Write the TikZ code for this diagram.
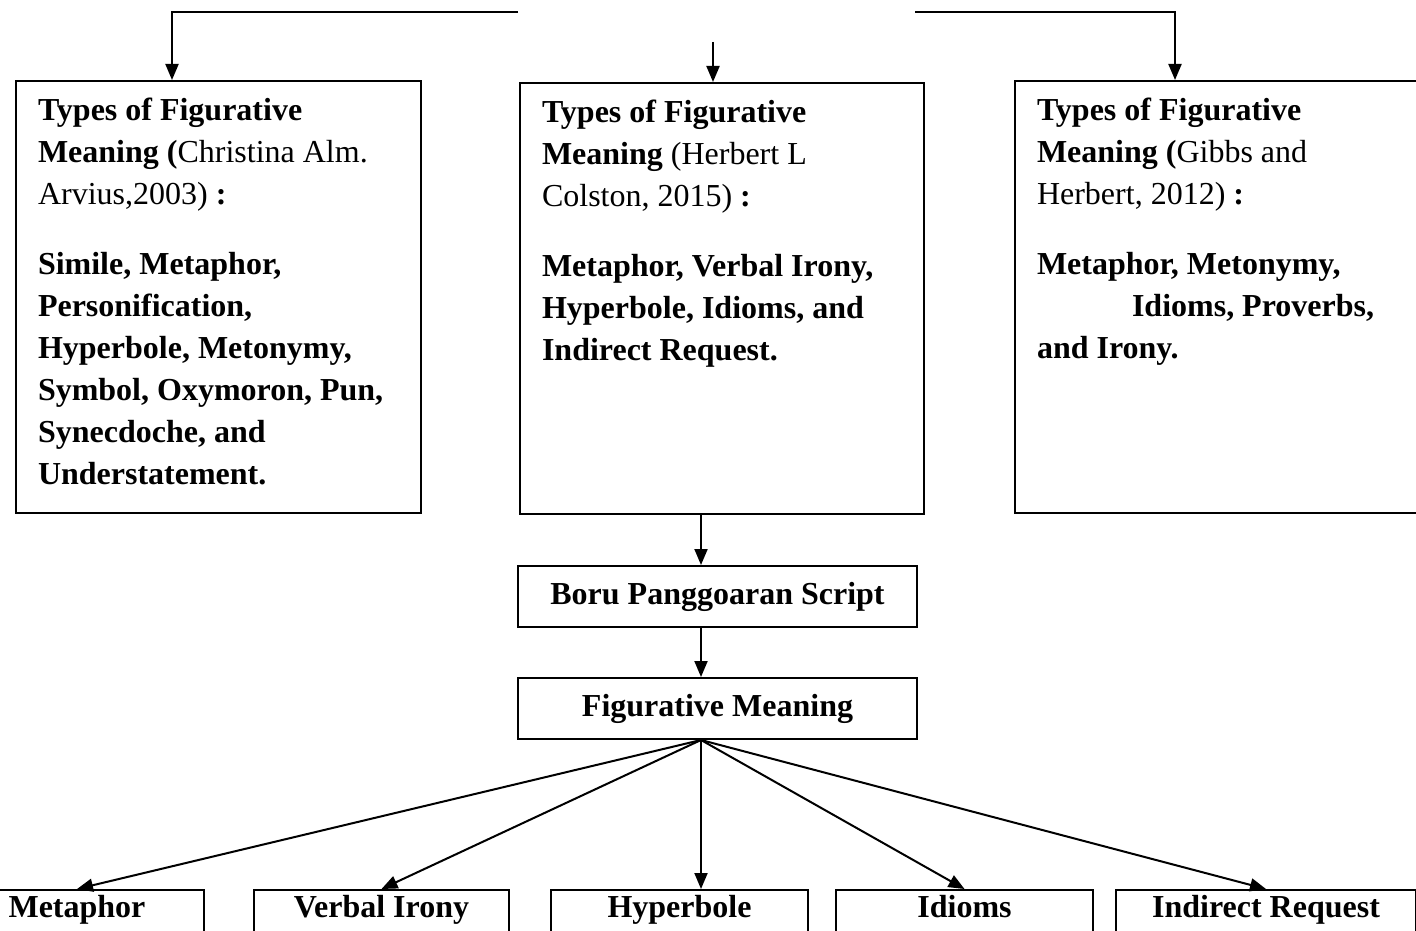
\documentclass[tikz,border=0pt]{standalone}
\usepackage{fontspec}
\setmainfont{Liberation Serif}
\usetikzlibrary{arrows.meta, positioning, calc}

\tikzset{
  topbox/.style={draw, line width=1pt, anchor=north west, inner xsep=11pt, inner ysep=5pt, align=left},
  midbox/.style={draw, line width=1pt, anchor=north west, minimum width=199.5pt, minimum height=30.5pt, inner sep=0pt, font=\fontsize{16}{21}\selectfont\bfseries},
  leafbox/.style={draw, line width=1pt, anchor=north, text height=11.5pt, text depth=30pt, inner ysep=2pt, font=\fontsize{16}{21}\selectfont\bfseries},
  link/.style={-{Triangle[length=8pt,width=6.5pt]}, line width=1pt},
}

\begin{document}
\begin{tikzpicture}[x=0.5pt, y=-0.5pt, font=\fontsize{16}{21}\selectfont]
  \useasboundingbox (0,0) rectangle (1416,930);

  % three source boxes
  \node[topbox] (left) at (15,80) {\parbox[t][206pt][t]{180.5pt}{\strut
    \textbf{Types of Figurative}\\
    \textbf{Meaning (}Christina Alm.\\
    Arvius,2003) \textbf{:}\\[14pt]
    \textbf{Simile, Metaphor,}\\
    \textbf{Personification,}\\
    \textbf{Hyperbole, Metonymy,}\\
    \textbf{Symbol, Oxymoron, Pun,}\\
    \textbf{Synecdoche, and}\\
    \textbf{Understatement.}}};
  \node[topbox] (mid) at (519,82) {\parbox[t][205.5pt][t]{180pt}{\strut
    \textbf{Types of Figurative}\\
    \textbf{Meaning} (Herbert L\\
    Colston, 2015) \textbf{:}\\[14pt]
    \textbf{Metaphor, Verbal Irony,}\\
    \textbf{Hyperbole, Idioms, and}\\
    \textbf{Indirect Request.}}};
  \node[topbox] (right) at (1014,80) {\parbox[t][206pt][t]{180.5pt}{\strut
    \textbf{Types of Figurative}\\
    \textbf{Meaning (}Gibbs and\\
    Herbert, 2012) \textbf{:}\\[14pt]
    \textbf{Metaphor, Metonymy,}\\
    \hspace*{47.5pt}\textbf{Idioms, Proverbs,}\\
    \textbf{and Irony.}}};

  % middle column
  \node[midbox] (boru) at (517,565) {Boru Panggoaran Script};
  \node[midbox] (fig) at (517,677) {Figurative Meaning};

  % result boxes
  \node[leafbox, minimum width=127pt] (metaphor) at (77,889) {Metaphor};
  \node[leafbox, minimum width=127.5pt] (irony) at (381.5,889) {Verbal Irony};
  \node[leafbox, minimum width=128.5pt] (hyper) at (679.5,889) {Hyperbole};
  \node[leafbox, minimum width=128.5pt] (idioms) at (964.5,889) {Idioms};
  \node[leafbox, minimum width=150pt] (request) at (1266,889) {Indirect Request};

  % connectors
  \coordinate (tl) at (172,12);
  \coordinate (tlend) at (518,12);
  \coordinate (tr) at (1175,12);
  \coordinate (trend) at (915,12);
  \coordinate (tm) at (713,42);
  \coordinate (spine) at (701,0);

  \draw[link] (tlend) -- (tl) -- (tl |- left.north);
  \draw[link] (tm) -- (tm |- mid.north);
  \draw[link] (trend) -- (tr) -- (tr |- right.north);
  \draw[link] (spine |- mid.south) -- (spine |- boru.north);
  \draw[link] (spine |- boru.south) -- (spine |- fig.north);
  \foreach \leaf in {metaphor, irony, idioms, request}
    \draw[link] (spine |- fig.south) -- (\leaf.north);
  \draw[link] (spine |- fig.south) -- (spine |- hyper.north);
\end{tikzpicture}
\end{document}
